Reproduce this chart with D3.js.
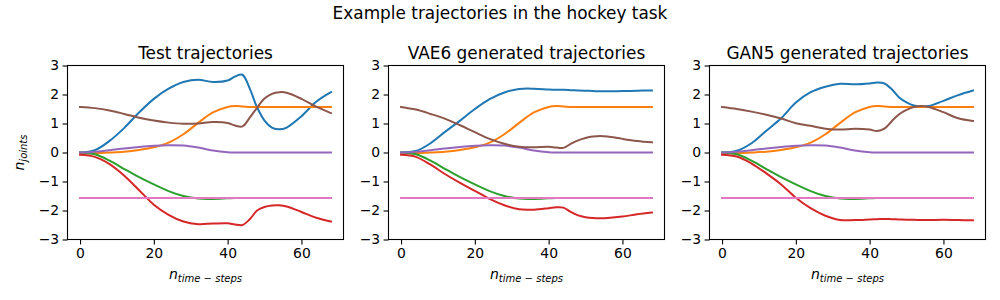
<!DOCTYPE html>
<html>
  <head>
    <script src="https://d3js.org/d3.v7.min.js"></script>
    <style>
      body { margin: 0; background: #fff; }
      text { font-family: "DejaVu Sans", sans-serif; fill: #000; }
    </style>
  </head>
  <body>
    <svg width="1000" height="300"></svg>
    <script>
      const steps = [0, 4, 8, 12, 16, 20, 24, 28, 32, 36, 40, 42, 44, 46, 48, 50, 52, 54, 56, 60, 64, 68];
      const titles = ["Test trajectories", "VAE6 generated trajectories", "GAN5 generated trajectories"];
      const colors = ["#1f77b4", "#ff7f0e", "#2ca02c", "#d62728", "#9467bd", "#8c564b", "#e377c2"];
      const yTicks = [-3, -2, -1, 0, 1, 2, 3];
      const xTicks = [0, 20, 40, 60];

      // joints that are the same in every panel
      const orange = [-0.02, -0.02, 0.0, 0.03, 0.09, 0.18, 0.34, 0.63, 1.02, 1.38, 1.57, 1.6, 1.59, 1.57, 1.57, 1.57, 1.57, 1.57, 1.57, 1.57, 1.57, 1.57];
      const green = [0, -0.06, -0.28, -0.57, -0.85, -1.1, -1.33, -1.5, -1.59, -1.6, -1.58, -1.57, -1.57, -1.57, -1.57, -1.57, -1.57, -1.57, -1.57, -1.57, -1.57, -1.57];
      const purple = [0, 0.03, 0.08, 0.14, 0.19, 0.23, 0.25, 0.24, 0.17, 0.07, 0.01, 0, 0, 0, 0, 0, 0, 0, 0, 0, 0, 0];
      const pink = [-1.57, -1.57, -1.57, -1.57, -1.57, -1.57, -1.57, -1.57, -1.57, -1.57, -1.57, -1.57, -1.57, -1.57, -1.57, -1.57, -1.57, -1.57, -1.57, -1.57, -1.57, -1.57];

      const testBlue = [0, 0.08, 0.4, 0.85, 1.38, 1.85, 2.2, 2.43, 2.51, 2.43, 2.48, 2.62, 2.68, 2.2, 1.55, 1.1, 0.86, 0.8, 0.86, 1.25, 1.75, 2.08];
      const testRed = [-0.08, -0.15, -0.4, -0.8, -1.3, -1.8, -2.15, -2.38, -2.47, -2.45, -2.44, -2.48, -2.5, -2.3, -2.0, -1.88, -1.83, -1.82, -1.86, -2.05, -2.25, -2.38];
      const testBrown = [1.57, 1.53, 1.45, 1.33, 1.2, 1.1, 1.03, 0.99, 1.0, 1.05, 1.02, 0.93, 0.9, 1.2, 1.55, 1.86, 2.02, 2.08, 2.06, 1.85, 1.58, 1.36];

      const vaeBlue = [0, 0.05, 0.32, 0.72, 1.1, 1.5, 1.84, 2.07, 2.19, 2.2, 2.17, 2.16, 2.16, 2.15, 2.14, 2.13, 2.12, 2.11, 2.11, 2.12, 2.13, 2.14];
      const vaeRed = [-0.08, -0.15, -0.42, -0.75, -1.05, -1.32, -1.6, -1.82, -1.96, -1.97, -1.92, -1.89, -1.9, -2.05, -2.17, -2.23, -2.26, -2.27, -2.26, -2.21, -2.13, -2.07];
      const vaeBrown = [1.57, 1.48, 1.33, 1.16, 0.94, 0.7, 0.47, 0.3, 0.2, 0.18, 0.2, 0.17, 0.16, 0.3, 0.42, 0.5, 0.55, 0.57, 0.55, 0.47, 0.4, 0.35];

      const ganBlue = [0, 0.06, 0.32, 0.75, 1.18, 1.72, 2.08, 2.27, 2.37, 2.35, 2.38, 2.41, 2.38, 2.18, 1.9, 1.73, 1.62, 1.58, 1.6, 1.78, 1.98, 2.14];
      const ganRed = [-0.08, -0.14, -0.38, -0.72, -1.1, -1.56, -1.92, -2.18, -2.33, -2.33, -2.31, -2.3, -2.29, -2.3, -2.31, -2.32, -2.32, -2.33, -2.33, -2.32, -2.33, -2.34];
      const ganBrown = [1.57, 1.5, 1.41, 1.3, 1.17, 1.01, 0.92, 0.82, 0.79, 0.82, 0.79, 0.74, 0.82, 1.08, 1.32, 1.47, 1.57, 1.6, 1.57, 1.39, 1.18, 1.09];

      const panels = [
        [testBlue, orange, green, testRed, purple, testBrown, pink],
        [vaeBlue, orange, green, vaeRed, purple, vaeBrown, pink],
        [ganBlue, orange, green, ganRed, purple, ganBrown, pink]
      ];

      const svg = d3.select("svg");
      const lefts = [67.5, 388.5, 709.5];
      const axTop = 65.5, w = 276, h = 174;

      svg.append("text")
        .attr("x", 500).attr("y", 19)
        .attr("text-anchor", "middle")
        .style("font-size", "16.9px")
        .text("Example trajectories in the hockey task");

      const x = d3.scaleLinear().domain([-3.4, 71.4]).range([0, w]);
      const y = d3.scaleLinear().domain([-3, 3]).range([h, 0]);
      const line = d3.line()
        .x((d, i) => x(steps[i]))
        .y(d => y(d))
        .curve(d3.curveCatmullRom);

      panels.forEach((series, p) => {
        const g = svg.append("g").attr("transform", `translate(${lefts[p]},${axTop})`);

        g.selectAll("path.traj").data(series).enter().append("path")
          .attr("class", "traj")
          .attr("d", d => line(d))
          .attr("fill", "none")
          .attr("stroke", (d, i) => colors[i])
          .attr("stroke-width", 2)
          .attr("stroke-linecap", "square");

        const xAxis = g.append("g").attr("transform", `translate(0,${h})`)
          .call(d3.axisBottom(x).tickValues(xTicks).tickSize(4.9).tickPadding(3.5).tickSizeOuter(0));
        const yAxis = g.append("g")
          .call(d3.axisLeft(y).tickValues(yTicks).tickSize(4.9).tickPadding(3.5).tickSizeOuter(0)
            .tickFormat(d => d < 0 ? "\u2212" + Math.abs(d) : d));
        [xAxis, yAxis].forEach(a => {
          a.select(".domain").remove();
          a.selectAll("line").attr("stroke", "#000").attr("stroke-width", 1.1);
          a.selectAll("text").style("font-size", "13.9px").style("font-family", "DejaVu Sans");
        });

        g.append("rect")
          .attr("width", w).attr("height", h)
          .attr("fill", "none").attr("stroke", "#000").attr("stroke-width", 1.1);

        g.append("text")
          .attr("x", w / 2).attr("y", -7)
          .attr("text-anchor", "middle")
          .style("font-size", "16.9px")
          .text(titles[p]);

        const xl = g.append("text")
          .attr("x", w / 2).attr("y", h + 39)
          .attr("text-anchor", "middle")
          .style("font-style", "italic");
        xl.append("tspan").style("font-size", "14px").text("n");
        xl.append("tspan").attr("dy", 3).style("font-size", "10px").text("time \u2212 steps");

        if (p === 0) {
          const yl = g.append("text")
            .attr("transform", `translate(-44,${h / 2}) rotate(-90)`)
            .attr("text-anchor", "middle")
            .style("font-style", "italic");
          yl.append("tspan").style("font-size", "14px").text("n");
          yl.append("tspan").attr("dy", 3).style("font-size", "10px").text("joints");
        }
      });
    </script>
  </body>
</html>
